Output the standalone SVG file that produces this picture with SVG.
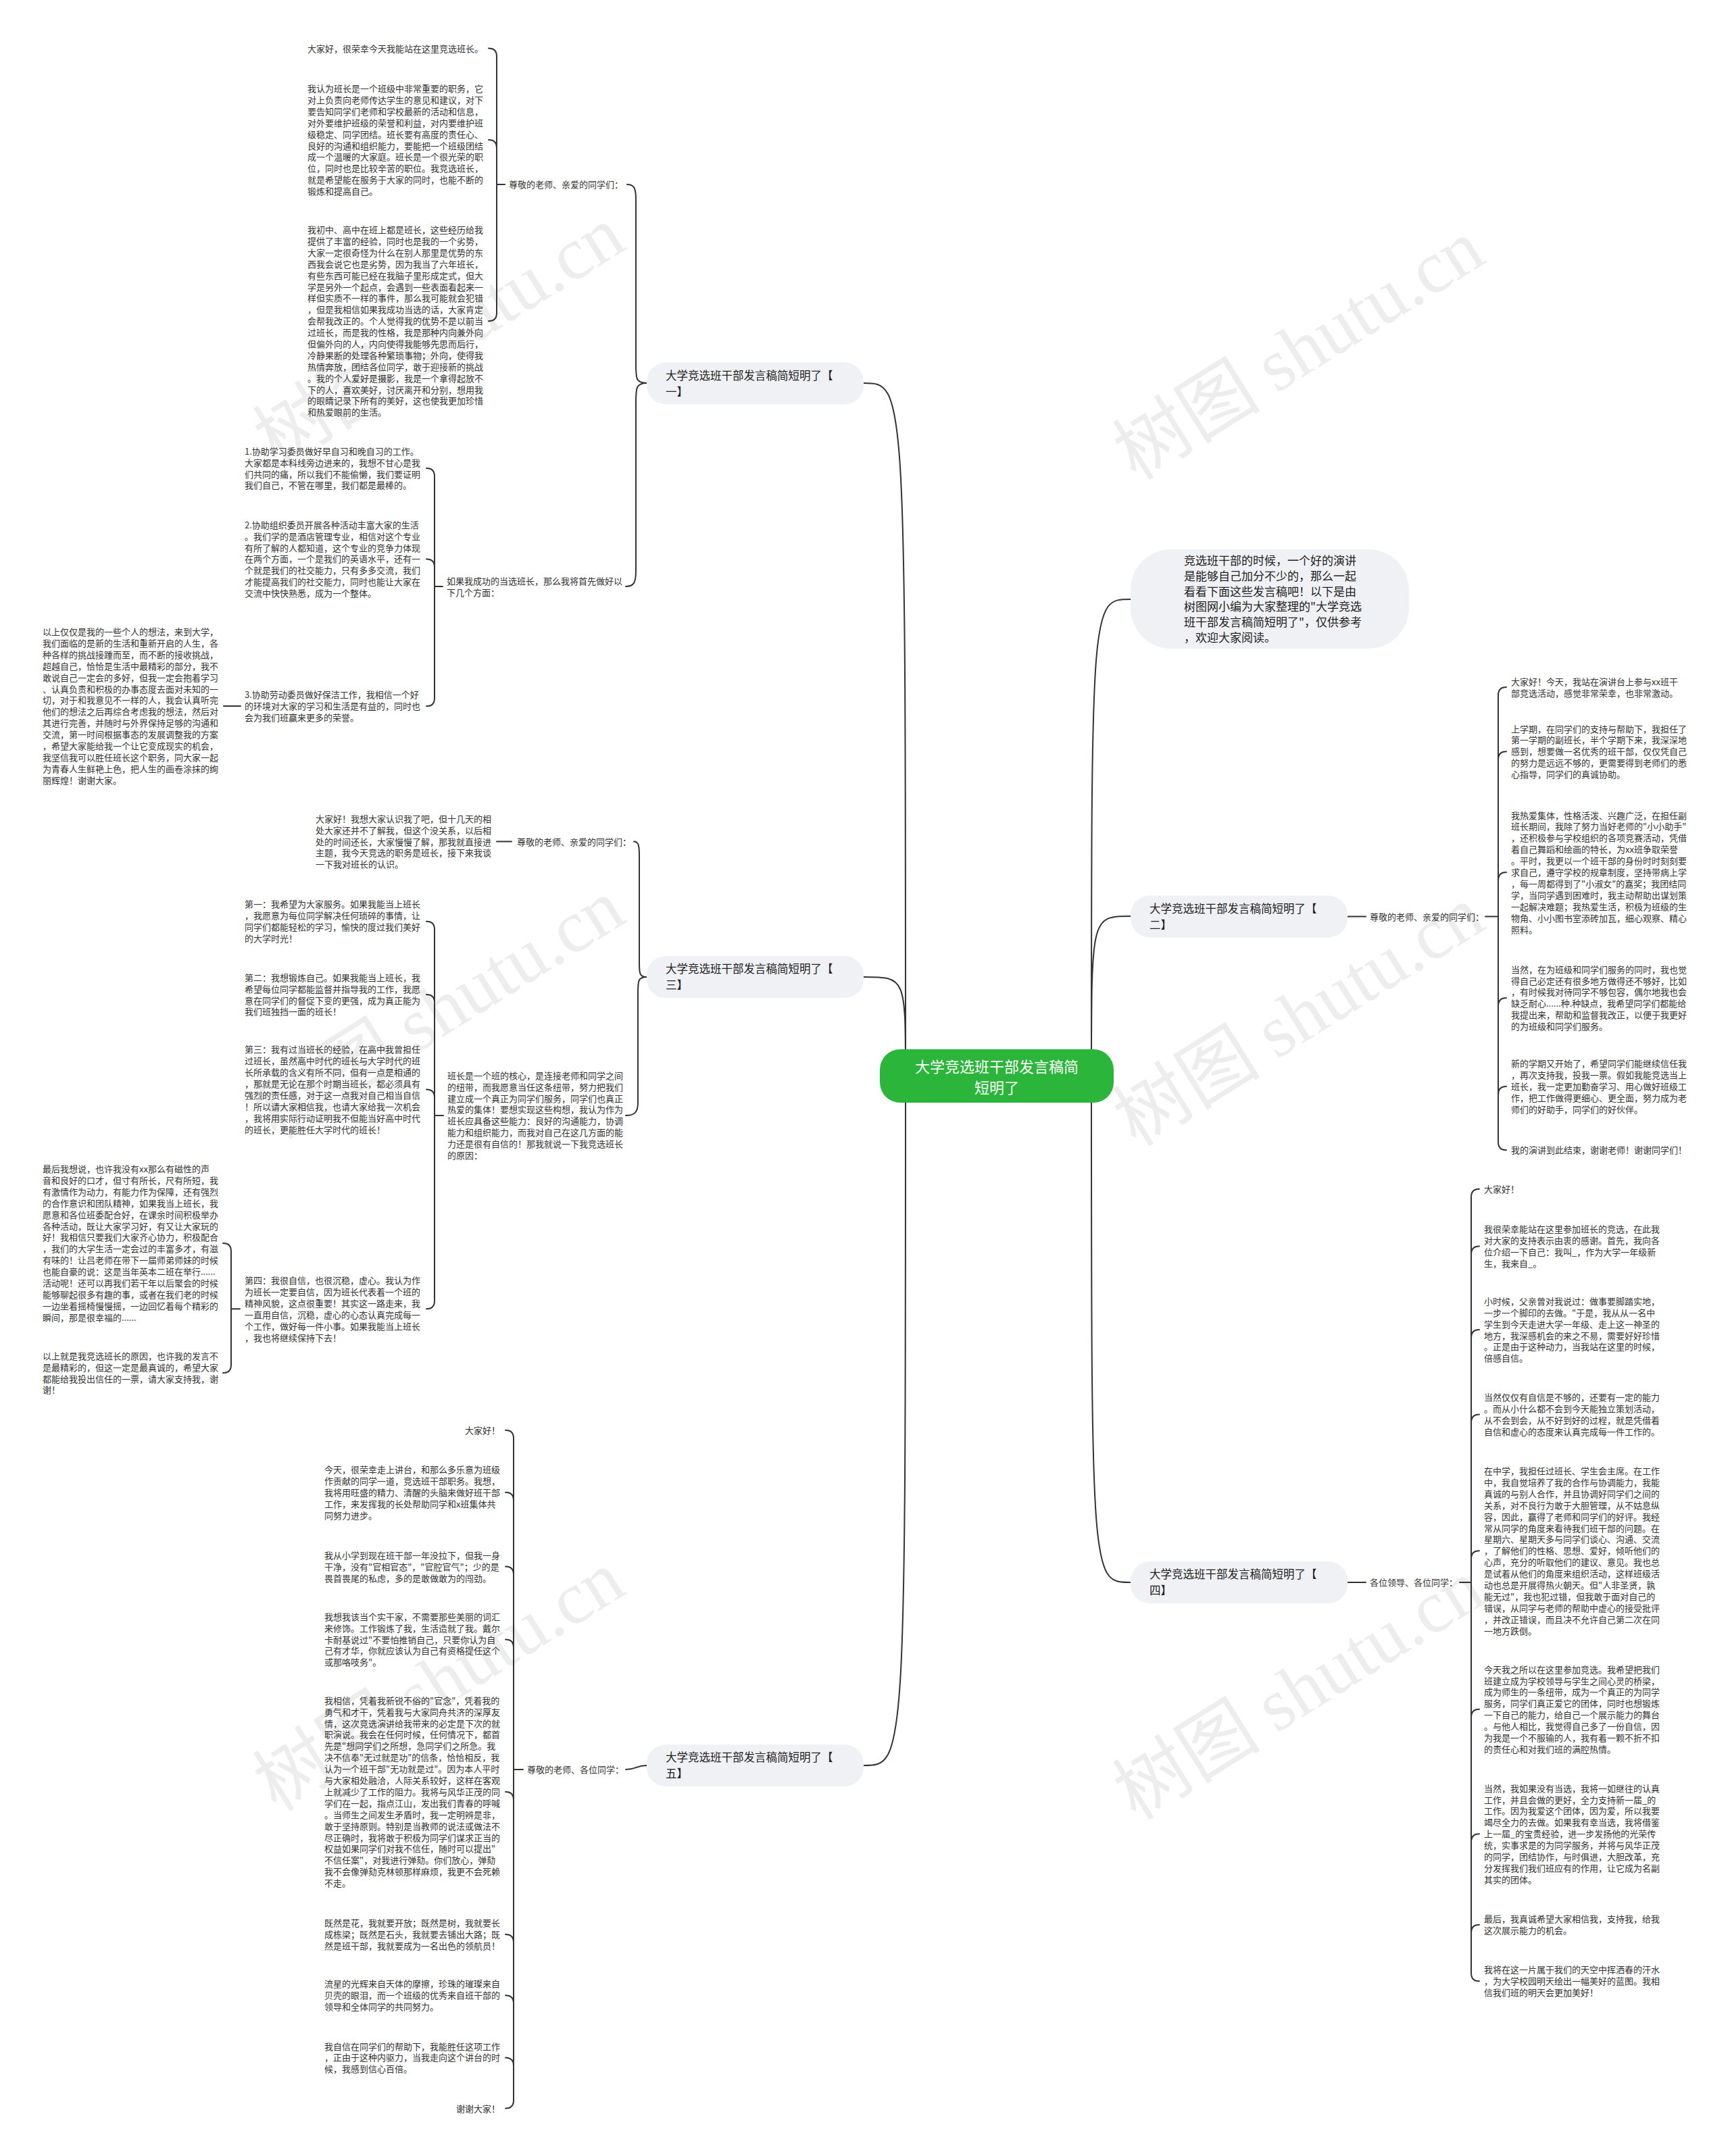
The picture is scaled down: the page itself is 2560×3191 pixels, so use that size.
<svg xmlns="http://www.w3.org/2000/svg" width="2560" height="3191" viewBox="0 0 2560 3191">
<style>
text{font-family:"Noto Sans CJK SC","Noto Sans",sans-serif;}
.p{font-size:13px;fill:#333;}
.lb{font-size:13px;fill:#333;}
.nt{font-size:16.5px;fill:#222;}
.it{font-size:17px;fill:#222;}
.ct{font-size:22px;fill:#fff;}
.box{fill:#eff1f4;}
.ln{fill:none;stroke:#333;stroke-width:2;stroke-linecap:round;}
.wm{font-size:110px;fill:#bdbdbd;fill-opacity:0.28;}
.wm tspan.l{font-family:"Liberation Serif",serif;}
</style>
<rect width="2560" height="3191" fill="#fff"/>

<g id="watermark">
<text class="wm" text-anchor="middle" transform="rotate(-32 651 500)" x="651" y="535">树图 <tspan class="l">shutu.cn</tspan></text>
<text class="wm" text-anchor="middle" transform="rotate(-32 1923 520)" x="1923" y="555">树图 <tspan class="l">shutu.cn</tspan></text>
<text class="wm" text-anchor="middle" transform="rotate(-32 651 1496)" x="651" y="1531">树图 <tspan class="l">shutu.cn</tspan></text>
<text class="wm" text-anchor="middle" transform="rotate(-32 1923 1506)" x="1923" y="1541">树图 <tspan class="l">shutu.cn</tspan></text>
<text class="wm" text-anchor="middle" transform="rotate(-32 651 2490)" x="651" y="2525">树图 <tspan class="l">shutu.cn</tspan></text>
<text class="wm" text-anchor="middle" transform="rotate(-32 1923 2503)" x="1923" y="2538">树图 <tspan class="l">shutu.cn</tspan></text>
</g>

<g id="connectors">
<!-- center to branches -->
<path class="ln" d="M1340,1592 C1340,567 1340,567 1278,567"/>
<path class="ln" d="M1340,1592 C1340,1446 1340,1446 1278,1446"/>
<path class="ln" d="M1340,1592 C1340,2613 1340,2613 1278,2613"/>
<path class="ln" d="M1615,1592 C1615,887 1615,887 1673,887"/>
<path class="ln" d="M1615,1592 C1615,1356 1615,1356 1673,1356"/>
<path class="ln" d="M1615,1592 C1615,2342 1615,2342 1673,2342"/>
<!-- section 1 -->
<path class="ln" d="M957,567 C941,567 941,560 941,540 L941,295 C941,278 938,273 928,273"/>
<path class="ln" d="M957,567 C941,567 941,575 941,595 L941,845 C941,862 938,868 926,868"/>
<path class="ln" d="M723,71.6 Q735,71.6 735,83.6 L735,463.2 Q735,475.2 723,475.2 M723,207 Q735,207 735,219 M735,273 H747"/>
<path class="ln" d="M631,693 Q643,693 643,705 L643,1033.2 Q643,1045.2 631,1045.2 M631,827.4 Q643,827.4 643,839.4 M643,868 H655"/>
<path class="ln" d="M331,1045 H356"/>
<!-- section 3 -->
<path class="ln" d="M957,1446 C946,1446 946,1440 946,1425 L946,1265 C946,1250 944,1245.5 938,1245.5"/>
<path class="ln" d="M957,1446 C944,1446 944,1452 944,1470 L944,1632 C944,1647 938,1651 926,1651"/>
<path class="ln" d="M735,1245.5 H757"/>
<path class="ln" d="M631,1363.7 Q643,1363.7 643,1375.7 L643,1925.3 Q643,1937.3 631,1937.3 M631,1472 Q643,1472 643,1484 M631,1612.5 Q643,1612.5 643,1624.5 M643,1651 H656"/>
<path class="ln" d="M330,1839.9 Q342,1839.9 342,1851.9 L342,2020 Q342,2032 330,2032 M342,1937.3 H355"/>
<!-- section 5 -->
<path class="ln" d="M926,2619 C941,2619 941,2613 957,2613"/>
<path class="ln" d="M748,2116.7 Q760,2116.7 760,2128.7 L760,3108.5 Q760,3120.5 748,3120.5 M748,2208.8 Q760,2208.8 760,2220.8 M748,2318.6 Q760,2318.6 760,2330.6 M748,2426.5 Q760,2426.5 760,2438.5 M748,2651.9 Q760,2651.9 760,2663.9 M748,2862.9 Q760,2862.9 760,2874.9 M748,2953.3 Q760,2953.3 760,2965.3 M748,3045.4 Q760,3045.4 760,3057.4 M760,2619 H774"/>
<!-- section 2 -->
<path class="ln" d="M1994,1356.5 H2021 M2198,1356.5 H2217"/>
<path class="ln" d="M2229,1017 Q2217,1017 2217,1029 L2217,1690.3 Q2217,1702.3 2229,1702.3 M2217,1124.3 Q2217,1112.3 2229,1112.3 M2217,1303 Q2217,1291 2229,1291 M2217,1488.9 Q2217,1476.9 2229,1476.9 M2217,1620.1 Q2217,1608.1 2229,1608.1"/>
<!-- section 4 -->
<path class="ln" d="M1994,2342 H2021 M2160,2342 H2177"/>
<path class="ln" d="M2189,1759.8 Q2177,1759.8 2177,1771.8 L2177,2920.3 Q2177,2932.3 2189,2932.3 M2177,1856.4 Q2177,1844.4 2189,1844.4 M2177,1980 Q2177,1968 2189,1968 M2177,2105.5 Q2177,2093.5 2189,2093.5 M2177,2307.3 Q2177,2295.3 2189,2295.3 M2177,2541.8 Q2177,2529.8 2189,2529.8 M2177,2726.2 Q2177,2714.2 2189,2714.2 M2177,2860.8 Q2177,2848.8 2189,2848.8"/>
</g>

<g id="center">
<rect x="1302" y="1553" width="346" height="79" rx="30" fill="#2bb53a"/>
<text class="ct" text-anchor="middle"><tspan x="1475" y="1587">大学竞选班干部发言稿简</tspan><tspan x="1475" y="1618">短明了</tspan></text>
</g>

<g id="intro">
<rect x="1673" y="813" width="412" height="147" rx="60" class="box"/>
<text class="it"><tspan x="1752" y="836">竞选班干部的时候，一个好的演讲</tspan><tspan x="1752" dy="22.8">是能够自己加分不少的，那么一起</tspan><tspan x="1752" dy="22.8">看看下面这些发言稿吧！以下是由</tspan><tspan x="1752" dy="22.8">树图网小编为大家整理的"大学竞选</tspan><tspan x="1752" dy="22.8">班干部发言稿简短明了"，仅供参考</tspan><tspan x="1752" dy="22.8">，欢迎大家阅读。</tspan></text>
</g>

<g id="node-1">
<rect x="957" y="536.5" width="321" height="62" rx="28" class="box"/>
<text class="nt"><tspan x="985" y="561.5">大学竞选班干部发言稿简短明了【</tspan><tspan x="985" y="585.5">一】</tspan></text>
</g>
<g id="n1-label-a"><text class="lb" x="753" y="278">尊敬的老师、亲爱的同学们：</text></g>
<g id="n1-p1"><text class="p" x="455" y="76.6">大家好，很荣幸今天我能站在这里竞选班长。</text></g>
<g id="n1-p2"><text class="p"><tspan x="455" y="136">我认为班长是一个班级中非常重要的职务，它</tspan><tspan x="455" dy="16.9">对上负责向老师传达学生的意见和建议，对下</tspan><tspan x="455" dy="16.9">要告知同学们老师和学校最新的活动和信息，</tspan><tspan x="455" dy="16.9">对外要维护班级的荣誉和利益，对内要维护班</tspan><tspan x="455" dy="16.9">级稳定、同学团结。班长要有高度的责任心、</tspan><tspan x="455" dy="16.9">良好的沟通和组织能力，要能把一个班级团结</tspan><tspan x="455" dy="16.9">成一个温暖的大家庭。班长是一个很光荣的职</tspan><tspan x="455" dy="16.9">位，同时也是比较辛苦的职位。我竞选班长，</tspan><tspan x="455" dy="16.9">就是希望能在服务于大家的同时，也能不断的</tspan><tspan x="455" dy="16.9">锻炼和提高自己。</tspan></text></g>
<g id="n1-p3"><text class="p"><tspan x="455" y="345">我初中、高中在班上都是班长，这些经历给我</tspan><tspan x="455" dy="16.9">提供了丰富的经验，同时也是我的一个劣势，</tspan><tspan x="455" dy="16.9">大家一定很奇怪为什么在别人那里是优势的东</tspan><tspan x="455" dy="16.9">西我会说它也是劣势，因为我当了六年班长，</tspan><tspan x="455" dy="16.9">有些东西可能已经在我脑子里形成定式，但大</tspan><tspan x="455" dy="16.9">学是另外一个起点，会遇到一些表面看起来一</tspan><tspan x="455" dy="16.9">样但实质不一样的事件，那么我可能就会犯错</tspan><tspan x="455" dy="16.9">，但是我相信如果我成功当选的话，大家肯定</tspan><tspan x="455" dy="16.9">会帮我改正的。个人觉得我的优势不是以前当</tspan><tspan x="455" dy="16.9">过班长，而是我的性格，我是那种内向兼外向</tspan><tspan x="455" dy="16.9">但偏外向的人，内向使得我能够先思而后行，</tspan><tspan x="455" dy="16.9">冷静果断的处理各种繁琐事物；外向，使得我</tspan><tspan x="455" dy="16.9">热情奔放，团结各位同学，敢于迎接新的挑战</tspan><tspan x="455" dy="16.9">。我的个人爱好是摄影，我是一个拿得起放不</tspan><tspan x="455" dy="16.9">下的人，喜欢美好，讨厌离开和分别，想用我</tspan><tspan x="455" dy="16.9">的眼睛记录下所有的美好，这也使我更加珍惜</tspan><tspan x="455" dy="16.9">和热爱眼前的生活。</tspan></text></g>
<g id="n1-label-b"><text class="lb"><tspan x="661" y="865">如果我成功的当选班长，那么我将首先做好以</tspan><tspan x="661" dy="16.9">下几个方面：</tspan></text></g>
<g id="n1-b1"><text class="p"><tspan x="362" y="672.7">1.协助学习委员做好早自习和晚自习的工作。</tspan><tspan x="362" dy="16.9">大家都是本科线旁边进来的，我想不甘心是我</tspan><tspan x="362" dy="16.9">们共同的痛，所以我们不能偷懒，我们要证明</tspan><tspan x="362" dy="16.9">我们自己，不管在哪里，我们都是最棒的。</tspan></text></g>
<g id="n1-b2"><text class="p"><tspan x="362" y="781.7">2.协助组织委员开展各种活动丰富大家的生活</tspan><tspan x="362" dy="16.9">。我们学的是酒店管理专业，相信对这个专业</tspan><tspan x="362" dy="16.9">有所了解的人都知道，这个专业的竞争力体现</tspan><tspan x="362" dy="16.9">在两个方面，一个是我们的英语水平，还有一</tspan><tspan x="362" dy="16.9">个就是我们的社交能力，只有多多交流，我们</tspan><tspan x="362" dy="16.9">才能提高我们的社交能力，同时也能让大家在</tspan><tspan x="362" dy="16.9">交流中快快熟悉，成为一个整体。</tspan></text></g>
<g id="n1-b3"><text class="p"><tspan x="362" y="1033.3">3.协助劳动委员做好保洁工作，我相信一个好</tspan><tspan x="362" dy="16.9">的环境对大家的学习和生活是有益的，同时也</tspan><tspan x="362" dy="16.9">会为我们班赢来更多的荣誉。</tspan></text></g>
<g id="n1-left"><text class="p"><tspan x="63" y="940">以上仅仅是我的一些个人的想法，来到大学，</tspan><tspan x="63" dy="16.9">我们面临的是新的生活和重新开启的人生，各</tspan><tspan x="63" dy="16.9">种各样的挑战接踵而至，而不断的接收挑战，</tspan><tspan x="63" dy="16.9">超越自己，恰恰是生活中最精彩的部分，我不</tspan><tspan x="63" dy="16.9">敢说自己一定会的多好，但我一定会抱着学习</tspan><tspan x="63" dy="16.9">、认真负责和积极的办事态度去面对未知的一</tspan><tspan x="63" dy="16.9">切，对于和我意见不一样的人，我会认真听完</tspan><tspan x="63" dy="16.9">他们的想法之后再综合考虑我的想法，然后对</tspan><tspan x="63" dy="16.9">其进行完善，并随时与外界保持足够的沟通和</tspan><tspan x="63" dy="16.9">交流，第一时间根据事态的发展调整我的方案</tspan><tspan x="63" dy="16.9">，希望大家能给我一个让它变成现实的机会，</tspan><tspan x="63" dy="16.9">我坚信我可以胜任班长这个职务，同大家一起</tspan><tspan x="63" dy="16.9">为青春人生鲜艳上色，把人生的画卷涂抹的绚</tspan><tspan x="63" dy="16.9">丽辉煌！谢谢大家。</tspan></text></g>

<g id="node-3">
<rect x="957" y="1415" width="321" height="62" rx="28" class="box"/>
<text class="nt"><tspan x="985" y="1440">大学竞选班干部发言稿简短明了【</tspan><tspan x="985" y="1464">三】</tspan></text>
</g>
<g id="n3-label-a"><text class="lb" x="765" y="1250.5">尊敬的老师、亲爱的同学们：</text></g>
<g id="n3-p0"><text class="p"><tspan x="467" y="1216.7">大家好！我想大家认识我了吧，但十几天的相</tspan><tspan x="467" dy="16.9">处大家还并不了解我，但这个没关系，以后相</tspan><tspan x="467" dy="16.9">处的时间还长，大家慢慢了解，那我就直接进</tspan><tspan x="467" dy="16.9">主题，我今天竞选的职务是班长，接下来我谈</tspan><tspan x="467" dy="16.9">一下我对班长的认识。</tspan></text></g>
<g id="n3-label-b"><text class="lb"><tspan x="662" y="1596.7">班长是一个班的核心，是连接老师和同学之间</tspan><tspan x="662" dy="16.9">的纽带，而我愿意当任这条纽带，努力把我们</tspan><tspan x="662" dy="16.9">建立成一个真正为同学们服务，同学们也真正</tspan><tspan x="662" dy="16.9">热爱的集体！要想实现这些构想，我认为作为</tspan><tspan x="662" dy="16.9">班长应具备这些能力：良好的沟通能力，协调</tspan><tspan x="662" dy="16.9">能力和组织能力，而我对自己在这几方面的能</tspan><tspan x="662" dy="16.9">力还是很有自信的！那我就说一下我竞选班长</tspan><tspan x="662" dy="16.9">的原因：</tspan></text></g>
<g id="n3-r1"><text class="p"><tspan x="362" y="1343.3">第一：我希望为大家服务。如果我能当上班长</tspan><tspan x="362" dy="16.9">，我愿意为每位同学解决任何琐碎的事情，让</tspan><tspan x="362" dy="16.9">同学们都能轻松的学习，愉快的度过我们美好</tspan><tspan x="362" dy="16.9">的大学时光！</tspan></text></g>
<g id="n3-r2"><text class="p"><tspan x="362" y="1451.7">第二：我想锻炼自己。如果我能当上班长，我</tspan><tspan x="362" dy="16.9">希望每位同学都能监督并指导我的工作，我愿</tspan><tspan x="362" dy="16.9">意在同学们的督促下变的更强，成为真正能为</tspan><tspan x="362" dy="16.9">我们班独挡一面的班长！</tspan></text></g>
<g id="n3-r3"><text class="p"><tspan x="362" y="1558.3">第三：我有过当班长的经验，在高中我曾担任</tspan><tspan x="362" dy="16.9">过班长，虽然高中时代的班长与大学时代的班</tspan><tspan x="362" dy="16.9">长所承载的含义有所不同，但有一点是相通的</tspan><tspan x="362" dy="16.9">，那就是无论在那个时期当班长，都必须具有</tspan><tspan x="362" dy="16.9">强烈的责任感，对于这一点我对自己相当自信</tspan><tspan x="362" dy="16.9">！所以请大家相信我，也请大家给我一次机会</tspan><tspan x="362" dy="16.9">，我将用实际行动证明我不但能当好高中时代</tspan><tspan x="362" dy="16.9">的班长，更能胜任大学时代的班长！</tspan></text></g>
<g id="n3-r4"><text class="p"><tspan x="362" y="1900">第四：我很自信，也很沉稳，虚心。我认为作</tspan><tspan x="362" dy="16.9">为班长一定要自信，因为班长代表着一个班的</tspan><tspan x="362" dy="16.9">精神风貌，这点很重要！其实这一路走来，我</tspan><tspan x="362" dy="16.9">一直用自信，沉稳，虚心的心态认真完成每一</tspan><tspan x="362" dy="16.9">个工作，做好每一件小事。如果我能当上班长</tspan><tspan x="362" dy="16.9">，我也将继续保持下去！</tspan></text></g>
<g id="n3-left1"><text class="p"><tspan x="63" y="1735">最后我想说，也许我没有xx那么有磁性的声</tspan><tspan x="63" dy="16.9">音和良好的口才，但寸有所长，尺有所短，我</tspan><tspan x="63" dy="16.9">有激情作为动力，有能力作为保障，还有强烈</tspan><tspan x="63" dy="16.9">的合作意识和团队精神，如果我当上班长，我</tspan><tspan x="63" dy="16.9">愿意和各位班委配合好，在课余时间积极举办</tspan><tspan x="63" dy="16.9">各种活动，既让大家学习好，有又让大家玩的</tspan><tspan x="63" dy="16.9">好！我相信只要我们大家齐心协力，积极配合</tspan><tspan x="63" dy="16.9">，我们的大学生活一定会过的丰富多才，有滋</tspan><tspan x="63" dy="16.9">有味的！让吕老师在带下一届师弟师妹的时候</tspan><tspan x="63" dy="16.9">也能自豪的说：这是当年英本二班在举行......</tspan><tspan x="63" dy="16.9">活动呢！还可以再我们若干年以后聚会的时候</tspan><tspan x="63" dy="16.9">能够聊起很多有趣的事，或者在我们老的时候</tspan><tspan x="63" dy="16.9">一边坐着摇椅慢慢摇，一边回忆着每个精彩的</tspan><tspan x="63" dy="16.9">瞬间，那是很幸福的......</tspan></text></g>
<g id="n3-left2"><text class="p"><tspan x="63" y="2011.7">以上就是我竞选班长的原因，也许我的发言不</tspan><tspan x="63" dy="16.9">是最精彩的，但这一定是最真诚的，希望大家</tspan><tspan x="63" dy="16.9">都能给我投出信任的一票，请大家支持我，谢</tspan><tspan x="63" dy="16.9">谢！</tspan></text></g>

<g id="node-5">
<rect x="957" y="2582" width="321" height="62" rx="28" class="box"/>
<text class="nt"><tspan x="985" y="2607">大学竞选班干部发言稿简短明了【</tspan><tspan x="985" y="2631">五】</tspan></text>
</g>
<g id="n5-label"><text class="lb" x="780" y="2624">尊敬的老师、各位同学：</text></g>
<g id="n5-p0"><text class="p" x="740" y="2121.7" text-anchor="end">大家好！</text></g>
<g id="n5-p1"><text class="p"><tspan x="480" y="2180">今天，很荣幸走上讲台，和那么多乐意为班级</tspan><tspan x="480" dy="16.9">作贡献的同学一道，竞选班干部职务。我想，</tspan><tspan x="480" dy="16.9">我将用旺盛的精力、清醒的头脑来做好班干部</tspan><tspan x="480" dy="16.9">工作，来发挥我的长处帮助同学和x班集体共</tspan><tspan x="480" dy="16.9">同努力进步。</tspan></text></g>
<g id="n5-p2"><text class="p"><tspan x="480" y="2306.7">我从小学到现在班干部一年没拉下，但我一身</tspan><tspan x="480" dy="16.9">干净，没有"官相官态"，"官腔官气"；少的是</tspan><tspan x="480" dy="16.9">畏首畏尾的私虑，多的是敢做敢为的闯劲。</tspan></text></g>
<g id="n5-p3"><text class="p"><tspan x="480" y="2397.7">我想我该当个实干家，不需要那些美丽的词汇</tspan><tspan x="480" dy="16.9">来修饰。工作锻炼了我，生活造就了我。戴尔</tspan><tspan x="480" dy="16.9">卡耐基说过"不要怕推销自己，只要你认为自</tspan><tspan x="480" dy="16.9">己有才华，你就应该认为自己有资格提任这个</tspan><tspan x="480" dy="16.9">或那咯吱务"。</tspan></text></g>
<g id="n5-p4"><text class="p"><tspan x="480" y="2521.7">我相信，凭着我新锐不俗的"官念"，凭着我的</tspan><tspan x="480" dy="16.9">勇气和才干，凭着我与大家同舟共济的深厚友</tspan><tspan x="480" dy="16.9">情，这次竞选演讲给我带来的必定是下次的就</tspan><tspan x="480" dy="16.9">职演说。我会在任何时候，任何情况下，都首</tspan><tspan x="480" dy="16.9">先是"想同学们之所想，急同学们之所急。我</tspan><tspan x="480" dy="16.9">决不信奉"无过就是功"的信条，恰恰相反，我</tspan><tspan x="480" dy="16.9">认为一个班干部"无功就是过"。因为本人平时</tspan><tspan x="480" dy="16.9">与大家相处融洽，人际关系较好，这样在客观</tspan><tspan x="480" dy="16.9">上就减少了工作的阻力。我将与风华正茂的同</tspan><tspan x="480" dy="16.9">学们在一起，指点江山，发出我们青春的呼喊</tspan><tspan x="480" dy="16.9">。当师生之间发生矛盾时，我一定明辨是非，</tspan><tspan x="480" dy="16.9">敢于坚持原则。特别是当教师的说法或做法不</tspan><tspan x="480" dy="16.9">尽正确时，我将敢于积极为同学们谋求正当的</tspan><tspan x="480" dy="16.9">权益如果同学们对我不信任，随时可以提出"</tspan><tspan x="480" dy="16.9">不信任案"，对我进行弹劾。你们放心，弹劾</tspan><tspan x="480" dy="16.9">我不会像弹劾克林顿那样麻烦，我更不会死赖</tspan><tspan x="480" dy="16.9">不走。</tspan></text></g>
<g id="n5-p5"><text class="p"><tspan x="480" y="2851">既然是花，我就要开放；既然是树，我就要长</tspan><tspan x="480" dy="16.9">成栋梁；既然是石头，我就要去铺出大路；既</tspan><tspan x="480" dy="16.9">然是班干部，我就要成为一名出色的领航员！</tspan></text></g>
<g id="n5-p6"><text class="p"><tspan x="480" y="2941.4">流星的光辉来自天体的摩擦，珍珠的璀璨来自</tspan><tspan x="480" dy="16.9">贝壳的眼泪，而一个班级的优秀来自班干部的</tspan><tspan x="480" dy="16.9">领导和全体同学的共同努力。</tspan></text></g>
<g id="n5-p7"><text class="p"><tspan x="480" y="3033.5">我自信在同学们的帮助下，我能胜任这项工作</tspan><tspan x="480" dy="16.9">，正由于这种内驱力，当我走向这个讲台的时</tspan><tspan x="480" dy="16.9">候，我感到信心百倍。</tspan></text></g>
<g id="n5-p8"><text class="p" x="740" y="3125.5" text-anchor="end">谢谢大家！</text></g>

<g id="node-2">
<rect x="1673" y="1325.5" width="321" height="62" rx="28" class="box"/>
<text class="nt"><tspan x="1701" y="1350.5">大学竞选班干部发言稿简短明了【</tspan><tspan x="1701" y="1374.5">二】</tspan></text>
</g>
<g id="n2-label"><text class="lb" x="2027" y="1361.5">尊敬的老师、亲爱的同学们：</text></g>
<g id="n2-p1"><text class="p"><tspan x="2236" y="1013.6">大家好！今天，我站在演讲台上参与xx班干</tspan><tspan x="2236" dy="16.9">部竞选活动，感觉非常荣幸，也非常激动。</tspan></text></g>
<g id="n2-p2"><text class="p"><tspan x="2236" y="1083.5">上学期，在同学们的支持与帮助下，我担任了</tspan><tspan x="2236" dy="16.9">第一学期的副班长，半个学期下来，我深深地</tspan><tspan x="2236" dy="16.9">感到，想要做一名优秀的班干部，仅仅凭自己</tspan><tspan x="2236" dy="16.9">的努力是远远不够的，更需要得到老师们的悉</tspan><tspan x="2236" dy="16.9">心指导，同学们的真诚协助。</tspan></text></g>
<g id="n2-p3"><text class="p"><tspan x="2236" y="1211.5">我热爱集体，性格活泼、兴趣广泛，在担任副</tspan><tspan x="2236" dy="16.9">班长期间，我除了努力当好老师的"小小助手"</tspan><tspan x="2236" dy="16.9">，还积极参与学校组织的各项竞赛活动，凭借</tspan><tspan x="2236" dy="16.9">着自己舞蹈和绘画的特长，为xx班争取荣誉</tspan><tspan x="2236" dy="16.9">。平时，我更以一个班干部的身份时时刻刻要</tspan><tspan x="2236" dy="16.9">求自己，遵守学校的规章制度，坚持带病上学</tspan><tspan x="2236" dy="16.9">，每一周都得到了"小淑女"的嘉奖；我团结同</tspan><tspan x="2236" dy="16.9">学，当同学遇到困难时，我主动帮助出谋划策</tspan><tspan x="2236" dy="16.9">一起解决难题；我热爱生活，积极为班级的生</tspan><tspan x="2236" dy="16.9">物角、小小图书室添砖加瓦，细心观察、精心</tspan><tspan x="2236" dy="16.9">照料。</tspan></text></g>
<g id="n2-p4"><text class="p"><tspan x="2236" y="1439.6">当然，在为班级和同学们服务的同时，我也觉</tspan><tspan x="2236" dy="16.9">得自己必定还有很多地方做得还不够好，比如</tspan><tspan x="2236" dy="16.9">，有时候我对待同学不够包容，偶尔地我也会</tspan><tspan x="2236" dy="16.9">缺乏耐心......种.种缺点，我希望同学们都能给</tspan><tspan x="2236" dy="16.9">我提出来，帮助和监督我改正，以便于我更好</tspan><tspan x="2236" dy="16.9">的为班级和同学们服务。</tspan></text></g>
<g id="n2-p5"><text class="p"><tspan x="2236" y="1579.3">新的学期又开始了，希望同学们能继续信任我</tspan><tspan x="2236" dy="16.9">，再次支持我，投我一票。假如我能竞选当上</tspan><tspan x="2236" dy="16.9">班长，我一定更加勤奋学习、用心做好班级工</tspan><tspan x="2236" dy="16.9">作，把工作做得更细心、更全面，努力成为老</tspan><tspan x="2236" dy="16.9">师们的好助手，同学们的好伙伴。</tspan></text></g>
<g id="n2-p6"><text class="p" x="2236" y="1707.3">我的演讲到此结束，谢谢老师！谢谢同学们！</text></g>

<g id="node-4">
<rect x="1673" y="2311" width="321" height="62" rx="28" class="box"/>
<text class="nt"><tspan x="1701" y="2336">大学竞选班干部发言稿简短明了【</tspan><tspan x="1701" y="2360">四】</tspan></text>
</g>
<g id="n4-label"><text class="lb" x="2027" y="2347">各位领导、各位同学：</text></g>
<g id="n4-p1"><text class="p" x="2196" y="1764.8">大家好！</text></g>
<g id="n4-p2"><text class="p"><tspan x="2196" y="1824">我很荣幸能站在这里参加班长的竞选，在此我</tspan><tspan x="2196" dy="16.9">对大家的支持表示由衷的感谢。首先，我向各</tspan><tspan x="2196" dy="16.9">位介绍一下自己：我叫_，作为大学一年级新</tspan><tspan x="2196" dy="16.9">生，我来自_。</tspan></text></g>
<g id="n4-p3"><text class="p"><tspan x="2196" y="1930.8">小时候，父亲曾对我说过：做事要脚踏实地，</tspan><tspan x="2196" dy="16.9">一步一个脚印的去做。"于是，我从从一名中</tspan><tspan x="2196" dy="16.9">学生到今天走进大学一年级、走上这一神圣的</tspan><tspan x="2196" dy="16.9">地方，我深感机会的来之不易，需要好好珍惜</tspan><tspan x="2196" dy="16.9">。正是由于这种动力，当我站在这里的时候，</tspan><tspan x="2196" dy="16.9">倍感自信。</tspan></text></g>
<g id="n4-p4"><text class="p"><tspan x="2196" y="2073.2">当然仅仅有自信是不够的，还要有一定的能力</tspan><tspan x="2196" dy="16.9">。而从小什么都不会到今天能独立策划活动，</tspan><tspan x="2196" dy="16.9">从不会到会，从不好到好的过程，就是凭借着</tspan><tspan x="2196" dy="16.9">自信和虚心的态度来认真完成每一件工作的。</tspan></text></g>
<g id="n4-p5"><text class="p"><tspan x="2196" y="2182">在中学，我担任过班长、学生会主席。在工作</tspan><tspan x="2196" dy="16.9">中，我自觉培养了我的合作与协调能力，我能</tspan><tspan x="2196" dy="16.9">真诚的与别人合作，并且协调好同学们之间的</tspan><tspan x="2196" dy="16.9">关系，对不良行为敢于大胆管理，从不姑息纵</tspan><tspan x="2196" dy="16.9">容，因此，赢得了老师和同学们的好评。我经</tspan><tspan x="2196" dy="16.9">常从同学的角度来看待我们班干部的问题。在</tspan><tspan x="2196" dy="16.9">星期六、星期天多与同学们谈心、沟通、交流</tspan><tspan x="2196" dy="16.9">，了解他们的性格、思想、爱好，倾听他们的</tspan><tspan x="2196" dy="16.9">心声，充分的听取他们的建议、意见。我也总</tspan><tspan x="2196" dy="16.9">是试着从他们的角度来组织活动，这样班级活</tspan><tspan x="2196" dy="16.9">动也总是开展得热火朝天。但"人非圣贤，孰</tspan><tspan x="2196" dy="16.9">能无过"，我也犯过错，但我敢于面对自己的</tspan><tspan x="2196" dy="16.9">错误，从同学与老师的帮助中虚心的接受批评</tspan><tspan x="2196" dy="16.9">，并改正错误，而且决不允许自己第二次在同</tspan><tspan x="2196" dy="16.9">一地方跌倒。</tspan></text></g>
<g id="n4-p6"><text class="p"><tspan x="2196" y="2475.6">今天我之所以在这里参加竞选。我希望把我们</tspan><tspan x="2196" dy="16.9">班建立成为学校领导与学生之间心灵的桥梁，</tspan><tspan x="2196" dy="16.9">成为师生的一条纽带，成为一个真正的为同学</tspan><tspan x="2196" dy="16.9">服务，同学们真正爱它的团体，同时也想锻炼</tspan><tspan x="2196" dy="16.9">一下自己的能力，给自己一个展示能力的舞台</tspan><tspan x="2196" dy="16.9">。与他人相比，我觉得自己多了一份自信，因</tspan><tspan x="2196" dy="16.9">为我是一个不服输的人，我有着一颗不折不扣</tspan><tspan x="2196" dy="16.9">的责任心和对我们班的满腔热情。</tspan></text></g>
<g id="n4-p7"><text class="p"><tspan x="2196" y="2651.6">当然，我如果没有当选，我将一如继往的认真</tspan><tspan x="2196" dy="16.9">工作，并且会做的更好，全力支持新一届_的</tspan><tspan x="2196" dy="16.9">工作。因为我爱这个团体，因为爱，所以我要</tspan><tspan x="2196" dy="16.9">竭尽全力的去做。如果我有幸当选，我将借鉴</tspan><tspan x="2196" dy="16.9">上一届_的宝贵经验，进一步发扬他的光荣传</tspan><tspan x="2196" dy="16.9">统，实事求是的为同学服务，并将与风华正茂</tspan><tspan x="2196" dy="16.9">的同学，团结协作，与时俱进，大胆改革，充</tspan><tspan x="2196" dy="16.9">分发挥我们我们班应有的作用，让它成为名副</tspan><tspan x="2196" dy="16.9">其实的团体。</tspan></text></g>
<g id="n4-p8"><text class="p"><tspan x="2196" y="2845.3">最后，我真诚希望大家相信我，支持我，给我</tspan><tspan x="2196" dy="16.9">这次展示能力的机会。</tspan></text></g>
<g id="n4-p9"><text class="p"><tspan x="2196" y="2920.4">我将在这一片属于我们的天空中挥洒春的汗水</tspan><tspan x="2196" dy="16.9">，为大学校园明天绘出一幅美好的蓝图。我相</tspan><tspan x="2196" dy="16.9">信我们班的明天会更加美好！</tspan></text></g>
</svg>
